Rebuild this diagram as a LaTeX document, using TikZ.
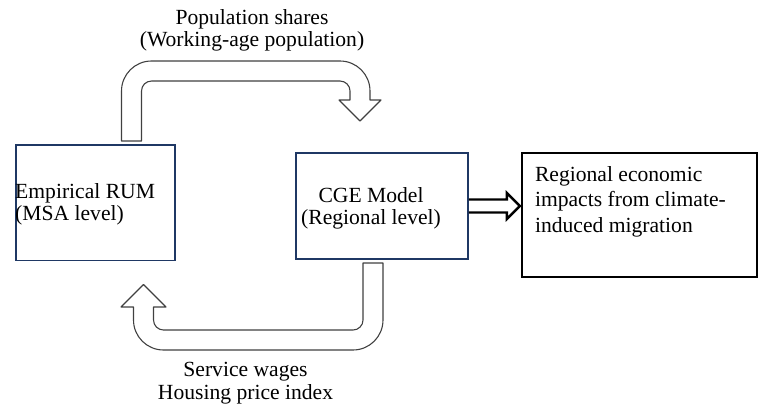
\documentclass[tikz,border=0pt]{standalone}
\usepackage{fontspec}
\setmainfont{Liberation Serif}
\usepackage{tikz}
\usetikzlibrary{arrows.meta, calc, positioning}
\definecolor{boxblue}{RGB}{31,56,100}
\definecolor{uturngray}{RGB}{64,64,64}
\tikzset{
  align=center,
  x=0.5556pt, y=0.5556pt,
  txt/.style={inner sep=0pt, outer sep=0pt, font=\fontsize{12}{12.5}\selectfont},
  modelbox/.style={draw=boxblue, line width=0.9pt, inner sep=0pt},
  outbox/.style={draw=black, line width=1.1pt, inner sep=0pt},
  uturn/.style={draw=uturngray, line width=0.6pt, fill=white, line join=round},
  blockarr/.style={draw=black, line width=1.3pt, line join=miter}
}

\begin{document}
\begin{tikzpicture}
  \useasboundingbox (0,0) rectangle (761,-411);

  % boxes
  \node[modelbox, minimum width=88.3pt, minimum height=64.2pt] (rum) at (95.5,-202.75) {};
  \node[modelbox, minimum width=95.6pt, minimum height=58.9pt] (cge) at (382,-206) {};
  \node[outbox, minimum width=130.6pt, minimum height=68.9pt] (impact) at (639.5,-215) {};

  \node[txt, anchor=west, align=left] (rumtxt) at ([yshift=-1pt]rum.west) {Empirical RUM\\(MSA level)};
  \node[txt] (cgetxt) at ([xshift=-6.1pt, yshift=-1.3pt]cge.center) {CGE Model\\(Regional level)};
  \node[txt, anchor=north west, align=left, font=\fontsize{12}{14.3}\selectfont] (impacttxt)
    at ([xshift=7.8pt, yshift=-7.8pt]impact.north west) {Regional economic\\impacts from climate-\\induced migration};

  % labels of the loop
  \node[txt] (poptxt) at (252,-30.2) {Population shares\\(Working-age population)};
  \node[txt] (svctxt) at (245.5,-383) {Service wages\\Housing price index};

  % RUM -> CGE
  \draw[uturn] (121.5,-141) -- (121.5,-91) arc[start angle=180, end angle=90, radius=30]
    -- (340,-61) arc[start angle=90, end angle=0, radius=30]
    -- (370,-100) -- (381,-100) -- (360,-121) -- (339,-100) -- (350,-100)
    -- (350,-91) arc[start angle=0, end angle=90, radius=10]
    -- (151.5,-81) arc[start angle=90, end angle=180, radius=10]
    -- (141.5,-141) -- cycle;

  % CGE -> RUM
  \draw[uturn] (363,-263) -- (383,-263) -- (383,-320) arc[start angle=0, end angle=-90, radius=30]
    -- (163.5,-350) arc[start angle=270, end angle=180, radius=30]
    -- (133.5,-307) -- (121,-307) -- (143.5,-284.5) -- (166,-307) -- (153.5,-307)
    -- (153.5,-320) arc[start angle=180, end angle=270, radius=10]
    -- (353,-330) arc[start angle=270, end angle=360, radius=10]
    -- cycle;

  % CGE -> impacts
  \draw[blockarr] (cge.east) ++(0,6.5) -- ++(38,0) -- ++(0,6.5) -- ++(13,-13)
    -- ++(-13,-13) -- ++(0,6.5) -- ++(-38,0);
\end{tikzpicture}
\end{document}
